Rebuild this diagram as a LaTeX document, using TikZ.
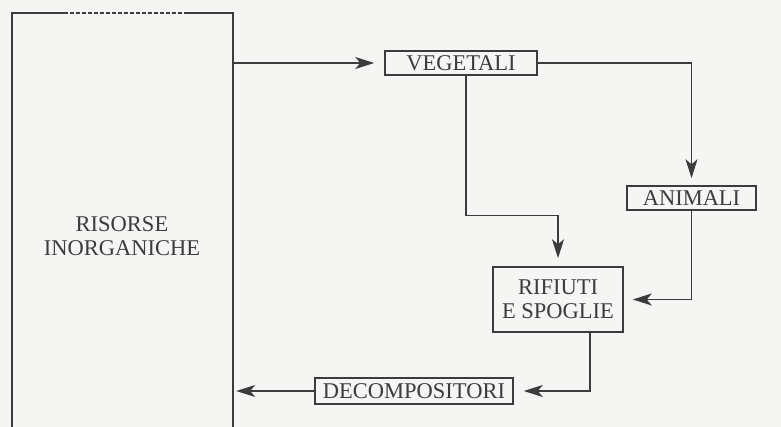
\documentclass[tikz,border=0pt]{standalone}
\usepackage{fontspec}
\setmainfont{Liberation Serif}
\usetikzlibrary{arrows.meta,calc}
\definecolor{ink}{HTML}{3C3C3C}
\definecolor{paper}{HTML}{F5F5F3}
\begin{document}
\begin{tikzpicture}[x=1pt,y=-1pt,
  lbl/.style={draw=ink,line width=1.5pt,text=ink,inner sep=0pt,align=center,
    font=\fontsize{22.5}{24}\selectfont},
  conn/.style={draw=ink,line width=1.5pt,-{Stealth[length=19pt,width=12pt,inset=5pt]}}]
\fill[paper] (0,0) rectangle (781,427);
\useasboundingbox (0,0) rectangle (781,427);
% big box (no text, open at bottom)
\node[minimum width=221pt,minimum height=430pt,inner sep=0pt] (BIG) at (122.5,228) {};
\draw[ink,line width=1.5pt] (BIG.south west) -- (BIG.north west) -- ++(52,0);
\draw[ink,line width=1.5pt,dash pattern=on 4pt off 2pt] ($(BIG.north west)+(52,0)$) -- ($(BIG.north east)+(-45,0)$);
\draw[ink,line width=1.5pt] ($(BIG.north east)+(-45,0)$) -- (BIG.north east) -- (BIG.south east);
\node[text=ink,align=center,font=\fontsize{22.5}{24}\selectfont] (RIS) at (122,236) {RISORSE\\INORGANICHE};
% boxes
\node[lbl,minimum width=152pt,minimum height=24pt] (VEG) at (461,63) {VEGETALI};
\node[lbl,minimum width=129pt,minimum height=24pt] (ANI) at (691.5,198) {ANIMALI};
\node[lbl,minimum width=130pt,minimum height=65pt] (RIF) at (558,299.5) {RIFIUTI\\E SPOGLIE};
\node[lbl,minimum width=198pt,minimum height=26pt] (DEC) at (414,391) {DECOMPOSITORI};
% connectors
\draw[conn,shorten >=10pt] (BIG.east |- VEG.west) -- (VEG.west);
\draw[conn,shorten >=7pt] (VEG.east) -| (ANI.north);
\coordinate (v1) at ($(VEG.south)+(5,0)$);
\draw[conn,shorten >=8pt] (v1) -- ++(0,140) -| (RIF.north);
\draw[conn,shorten >=9pt] (ANI.south) |- (RIF.east);
\coordinate (r1) at ($(RIF.south)+(32,0)$);
\draw[conn,shorten >=10pt] (r1) |- (DEC.east);
\draw[conn,shorten >=3pt] (DEC.west) -- (DEC.west -| BIG.east);
\end{tikzpicture}
\end{document}
